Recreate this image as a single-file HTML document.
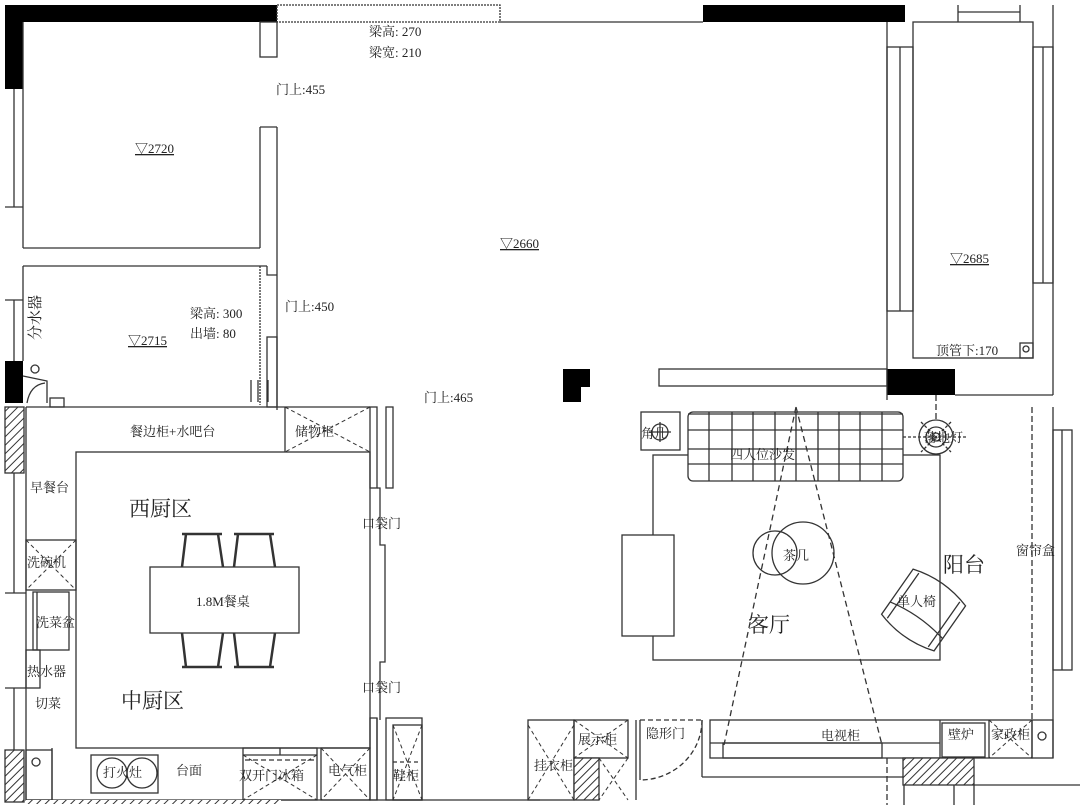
<!DOCTYPE html>
<html><head><meta charset="utf-8"><style>
html,body{margin:0;padding:0;background:#fff;width:1080px;height:810px;overflow:hidden}
svg{display:block}
text{font-family:"Liberation Serif","Noto Serif CJK SC","Noto Sans CJK SC",serif;fill:#222}
</style></head><body>
<svg width="1080" height="810" viewBox="0 0 1080 810" xmlns="http://www.w3.org/2000/svg">
<defs>
<pattern id="h" width="6" height="6" patternUnits="userSpaceOnUse" patternTransform="rotate(45)">
<rect width="6" height="6" fill="#fff"/><line x1="0" y1="0" x2="0" y2="6" stroke="#333" stroke-width="2"/></pattern>
</defs>
<g fill="none" stroke="#333" stroke-width="1.3">
<rect x="5" y="5" width="272" height="17" fill="#000" stroke="none"/>
<rect x="5" y="5" width="18" height="84" fill="#000" stroke="none"/>
<rect x="277" y="5" width="223" height="17" stroke-dasharray="2,1"/>
<line x1="500" y1="22" x2="520" y2="22"/>
<rect x="703" y="5" width="202" height="17" fill="#000" stroke="none"/>
<line x1="520" y1="22" x2="703" y2="22"/>
<line x1="23" y1="22" x2="23" y2="248"/>
<line x1="14" y1="89" x2="14" y2="207"/><line x1="5" y1="207" x2="23" y2="207"/>
<line x1="23" y1="248" x2="260" y2="248"/>
<rect x="260" y="22" width="17" height="35"/>
<line x1="260" y1="127" x2="260" y2="248"/>
<line x1="260" y1="127" x2="277" y2="127"/>
<line x1="277" y1="127" x2="277" y2="410"/>
<line x1="23" y1="266" x2="267" y2="266"/>
<polyline points="267,266 267,275 277,275"/>
<line x1="260" y1="266" x2="260" y2="405" stroke-dasharray="2,1"/>
<line x1="23" y1="266" x2="23" y2="361"/>
<line x1="14" y1="300" x2="14" y2="361"/><line x1="5" y1="300" x2="23" y2="300"/>
<rect x="267" y="337" width="10" height="70"/>
<rect x="5" y="361" width="18" height="42" fill="#000" stroke="none"/>
<circle cx="35" cy="369" r="4"/>
<path d="M23 376 L47 381 L47 403 M27 403 Q30 385 45 383"/>
<rect x="50" y="398" width="14" height="9"/>
<!-- kitchen -->
<rect x="5" y="407" width="19" height="66" fill="url(#h)"/>
<rect x="5" y="750" width="19" height="52" fill="url(#h)"/>
<line x1="14" y1="473" x2="14" y2="593"/><line x1="5" y1="593" x2="26" y2="593"/>
<line x1="14" y1="688" x2="14" y2="750"/><line x1="5" y1="688" x2="26" y2="688"/>
<line x1="26" y1="407" x2="26" y2="800"/>
<line x1="26" y1="407" x2="370" y2="407"/>
<rect x="76" y="452" width="294" height="296"/>
<line x1="285" y1="407" x2="285" y2="452"/>
<path d="M285 407 L370 452 M370 407 L285 452" stroke-dasharray="4,3" stroke-width="1"/>
<rect x="26" y="540" width="50" height="50"/>
<path d="M26 540 L76 590 M76 540 L26 590" stroke-dasharray="4,3" stroke-width="1"/>
<rect x="33" y="592" width="36" height="58"/><line x1="37" y1="592" x2="37" y2="650"/>
<rect x="26" y="650" width="14" height="38"/>
<rect x="26" y="750" width="26" height="50"/><circle cx="36" cy="762" r="4"/>
<line x1="52" y1="748" x2="52" y2="800"/>
<rect x="91" y="755" width="67" height="38"/>
<circle cx="112" cy="773" r="15"/><circle cx="142" cy="773" r="15"/>
<rect x="243" y="748" width="74" height="52"/><line x1="243" y1="755" x2="317" y2="755"/>
<line x1="280" y1="748" x2="280" y2="755"/>
<path d="M243 755 L317 800 M317 755 L243 800" stroke-dasharray="4,3" stroke-width="1"/>
<line x1="245" y1="760" x2="315" y2="760" stroke-dasharray="5,3"/>
<rect x="321" y="748" width="49" height="52"/>
<path d="M321 748 L370 800 M370 748 L321 800" stroke-dasharray="4,3" stroke-width="1"/>
<line x1="26" y1="800" x2="540" y2="800"/>
<rect x="26" y="800" width="255" height="4" fill="url(#h)" stroke="none"/>
<rect x="370" y="407" width="7" height="81"/><rect x="386" y="407" width="7" height="81"/>
<line x1="251" y1="380" x2="251" y2="402"/><line x1="258" y1="380" x2="258" y2="402"/><line x1="268" y1="380" x2="268" y2="402"/>
<polyline points="377,488 380,488 380,545 385,545 385,603"/>
<polyline points="385,603 385,662 380,662 380,720"/>
<rect x="370" y="718" width="7" height="82"/><line x1="377" y1="718" x2="377" y2="800"/>
<rect x="386" y="718" width="36" height="82"/>
<path d="M393 725 L422 800 M422 725 L393 800" stroke-dasharray="4,3" stroke-width="1"/>
<line x1="393" y1="762" x2="420" y2="762" stroke-dasharray="4,3"/>
<rect x="393" y="725" width="29" height="75"/>
<!-- table -->
<rect x="150" y="567" width="149" height="66"/>
<g stroke-width="2.5">
<path d="M182 534 L222 534 M186 534 L182 567 M218 534 L223 567"/>
<path d="M234 534 L274 534 M238 534 L234 567 M270 534 L275 567"/>
<path d="M182 667 L222 667 M186 667 L182 633 M218 667 L223 633"/>
<path d="M234 667 L274 667 M238 667 L234 633 M270 667 L275 633"/>
</g>
<path d="M563 369 L590 369 L590 387 L581 387 L581 402 L563 402 Z" fill="#000" stroke="none"/>
<rect x="659" y="369" width="228" height="17"/>
<rect x="887" y="369" width="68" height="26" fill="#000" stroke="none"/>
<!-- right room -->
<line x1="887" y1="22" x2="887" y2="400"/>
<rect x="913" y="22" width="120" height="336"/>
<rect x="887" y="47" width="26" height="264"/><line x1="900" y1="47" x2="900" y2="311"/>
<rect x="1033" y="47" width="20" height="236"/><line x1="1043" y1="47" x2="1043" y2="283"/>
<line x1="958" y1="12" x2="1020" y2="12"/><line x1="958" y1="5" x2="958" y2="22"/><line x1="1020" y1="5" x2="1020" y2="22"/>
<line x1="1053" y1="5" x2="1053" y2="395"/>
<line x1="955" y1="395" x2="1053" y2="395"/>
<rect x="1020" y="343" width="13" height="15"/><circle cx="1026" cy="349" r="3"/>
<!-- living -->
<line x1="1032" y1="407" x2="1032" y2="720" stroke-dasharray="6,3"/>
<line x1="936" y1="395" x2="936" y2="470" stroke-dasharray="6,3"/>
<line x1="1053" y1="407" x2="1053" y2="758"/>
<rect x="1053" y="430" width="19" height="240"/><line x1="1062" y1="430" x2="1062" y2="670"/>
<rect x="653" y="455" width="287" height="205" fill="#fff"/>
<rect x="622" y="535" width="52" height="101" fill="#fff"/>
<rect x="641" y="412" width="39" height="38" fill="#fff"/>
<circle cx="660" cy="432" r="8"/><path d="M649 432 L671 432 M660 422 L660 442"/>
<rect x="688" y="412" width="215" height="69" rx="5" fill="#fff"/>
<line x1="688" y1="414" x2="903" y2="414"/>
<path d="M688 430 H903 M688 449 H903 M688 464 H903"/>
<path d="M709 412 V481 M732 412 V481 M753 412 V481 M775 412 V481 M796 412 V481 M818 412 V481 M839 412 V481 M860 412 V481 M882 412 V481"/>
<circle cx="936" cy="437" r="17" fill="#fff"/><circle cx="936" cy="437" r="10"/><circle cx="936" cy="437" r="4"/>
<path d="M903 437 L968 437 M921 422 L951 452 M951 422 L921 452" stroke-dasharray="3,2"/>
<circle cx="803" cy="553" r="31"/><circle cx="775" cy="553" r="22"/>
<path d="M796 407 L724 745 M796 407 L882 745" stroke-dasharray="6,4"/>
<g transform="rotate(35 925 608)">
<path d="M893 583 Q925 573 957 583 L957 638 Q925 648 893 638 Z"/>
<path d="M893 623 Q925 616 957 623"/>
<path d="M900 583 L900 638 M950 583 L950 638"/>
</g>
<!-- bottom living -->
<rect x="528" y="720" width="46" height="80"/>
<path d="M528 725 L574 800 M574 725 L528 800" stroke-dasharray="4,3" stroke-width="1"/>
<rect x="574" y="720" width="54" height="38"/>
<path d="M574 720 L628 758 M628 720 L574 758" stroke-dasharray="4,3" stroke-width="1"/>
<rect x="574" y="758" width="25" height="42" fill="url(#h)"/>
<path d="M599 758 L628 800 M628 758 L599 800" stroke-dasharray="4,3" stroke-width="1"/>
<line x1="636" y1="720" x2="636" y2="800"/><line x1="640" y1="720" x2="640" y2="780"/>
<line x1="640" y1="720" x2="702" y2="720" stroke-dasharray="5,3"/>
<path d="M702 720 A62 60 0 0 1 640 780" stroke-dasharray="5,3"/>
<line x1="702" y1="720" x2="702" y2="777"/>
<rect x="710" y="720" width="322" height="38"/>
<line x1="710" y1="743" x2="940" y2="743"/>
<rect x="723" y="743" width="159" height="15"/>
<line x1="702" y1="777" x2="904" y2="777"/>
<line x1="940" y1="720" x2="940" y2="758"/>
<rect x="942" y="723" width="43" height="34"/>
<line x1="989" y1="720" x2="989" y2="758"/>
<path d="M989 720 L1032 758 M1032 720 L989 758" stroke-dasharray="4,3" stroke-width="1"/>
<rect x="1032" y="720" width="21" height="38"/><circle cx="1042" cy="736" r="4"/>
<line x1="974" y1="785" x2="1080" y2="785"/>
<rect x="903" y="758" width="71" height="27" fill="url(#h)"/>
<line x1="904" y1="785" x2="904" y2="805"/><line x1="954" y1="785" x2="954" y2="805"/><line x1="974" y1="785" x2="974" y2="805"/>
<line x1="887" y1="758" x2="887" y2="805" stroke-dasharray="6,3"/>
</g>
<g font-size="13">
<text x="369" y="36">梁高: 270</text>
<text x="369" y="57">梁宽: 210</text>
<text x="276" y="94">门上:455</text>
<text x="135" y="153" text-decoration="underline">▽2720</text>
<text x="500" y="248" text-decoration="underline">▽2660</text>
<text x="950" y="263" text-decoration="underline">▽2685</text>
<text x="936" y="355">顶管下:170</text>
<text x="285" y="311">门上:450</text>
<text x="190" y="318">梁高: 300</text>
<text x="190" y="338">出墙: 80</text>
<text x="128" y="345" text-decoration="underline">▽2715</text>
<text x="424" y="402">门上:465</text>
<text x="130" y="436">餐边柜+水吧台</text>
<text x="295" y="436">储物柜</text>
<text x="30" y="492">早餐台</text>
<text x="27" y="567">洗碗机</text>
<text x="36" y="627">洗菜盆</text>
<text x="27" y="676">热水器</text>
<text x="35" y="708">切菜</text>
<text x="362" y="528">口袋门</text>
<text x="362" y="692">口袋门</text>
<text x="196" y="606">1.8M餐桌</text>
<text x="103" y="777">打火灶</text>
<text x="176" y="775">台面</text>
<text x="239" y="780">双开门冰箱</text>
<text x="328" y="775">电气柜</text>
<text x="393" y="780">鞋柜</text>
<text x="534" y="770">挂衣柜</text>
<text x="578" y="744">展示柜</text>
<text x="646" y="738">隐形门</text>
<text x="821" y="740">电视柜</text>
<text x="948" y="739">壁炉</text>
<text x="991" y="739">家政柜</text>
<text x="641" y="438">角几</text>
<text x="730" y="459">四人位沙发</text>
<text x="783" y="560">茶几</text>
<text x="897" y="606">单人椅</text>
<text x="1016" y="555">窗帘盒</text>
<text x="924" y="442">落地灯</text>
</g>
<text x="40" y="340" font-size="15" transform="rotate(-90 40 340)">分水器</text>
<g font-size="21">
<text x="129" y="516">西厨区</text>
<text x="121" y="708">中厨区</text>
<text x="748" y="632">客厅</text>
<text x="943" y="572">阳台</text>
</g>
</svg>
</body></html>
